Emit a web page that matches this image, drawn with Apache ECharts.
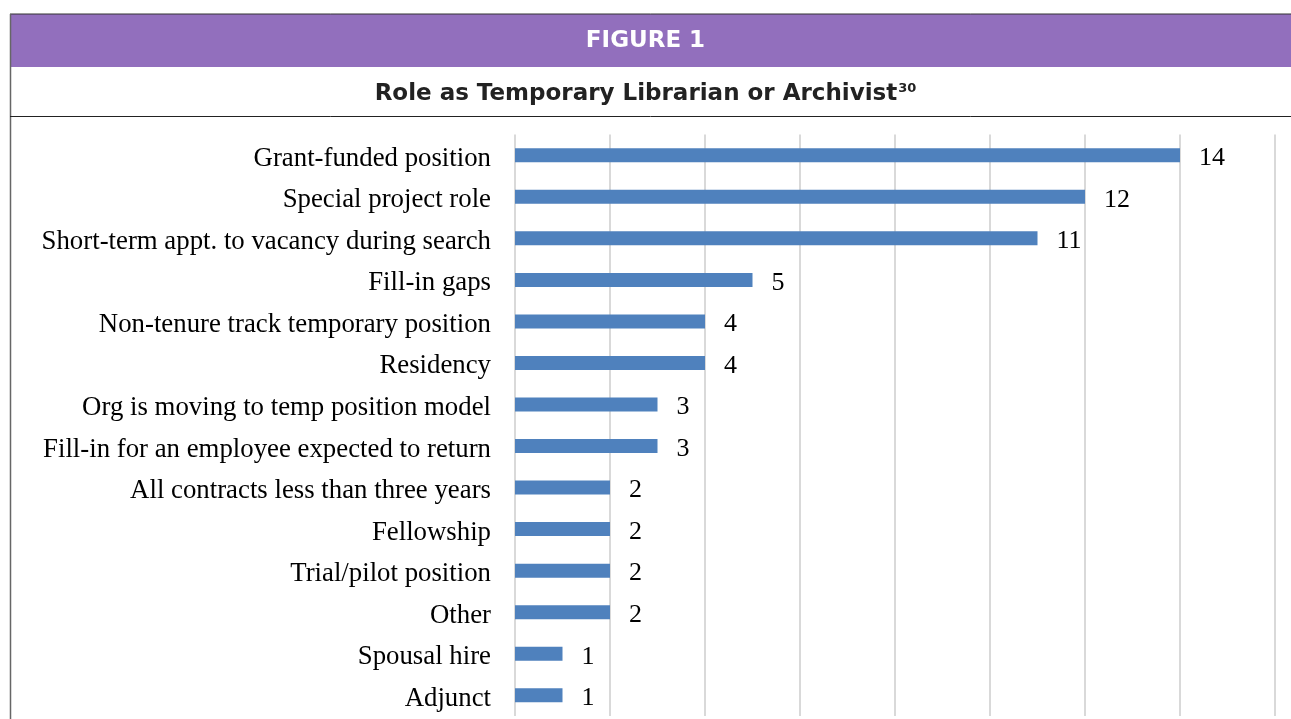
<!DOCTYPE html>
<html>
<head>
<meta charset="utf-8">
<script src="https://cdn.jsdelivr.net/npm/echarts@6/dist/echarts.min.js"></script>
<style>
  html, body { margin: 0; padding: 0; background: #fff; }
  #chart { width: 1291px; height: 719px; }
</style>
</head>
<body>
<div id="chart"></div>
<script>
// data
var roles = [
  "Grant-funded position",
  "Special project role",
  "Short-term appt. to vacancy during search",
  "Fill-in gaps",
  "Non-tenure track temporary position",
  "Residency",
  "Org is moving to temp position model",
  "Fill-in for an employee expected to return",
  "All contracts less than three years",
  "Fellowship",
  "Trial/pilot position",
  "Other",
  "Spousal hire",
  "Adjunct"
];
var counts = [14, 12, 11, 5, 4, 4, 3, 3, 2, 2, 2, 2, 1, 1];

var figureLabel = "FIGURE 1";
var figureTitle = "Role as Temporary Librarian or Archivist";
var footnote = "30";

var serif = '"Liberation Serif", "Times New Roman", serif';
var sans = '"DejaVu Sans", Inter, sans-serif';
var chart = echarts.init(document.getElementById('chart'));

var option = {
  backgroundColor: '#ffffff',
  animation: false,
  graphic: [
    // purple header band
    { type: 'rect', left: 10, top: 14, shape: { width: 1281, height: 53 },
      style: { fill: '#926fbd' }, z: 1 },
    // box outline
    { type: 'line', shape: { x1: 10, y1: 14, x2: 1291, y2: 14 },
      style: { stroke: '#333', lineWidth: 1 }, z: 2 },
    { type: 'line', shape: { x1: 10.5, y1: 14, x2: 10.5, y2: 719 },
      style: { stroke: '#666', lineWidth: 1.5 }, z: 2 },
    { type: 'line', shape: { x1: 10, y1: 116.5, x2: 1291, y2: 116.5 },
      style: { stroke: '#222', lineWidth: 1 }, z: 2 },
    { type: 'text', left: 'center', top: 30, z: 3,
      style: { text: figureLabel, fill: '#ffffff',
        font: 'bold 23px ' + sans } },
    { type: 'text', left: 'center', top: 82, z: 3,
      style: {
        text: '{t|' + figureTitle + '}{s|' + footnote + '}',
        rich: {
          t: { fontFamily: sans, fontWeight: 'bold', fontSize: 23, fill: '#222', color: '#222' },
          s: { fontFamily: sans, fontWeight: 'bold', fontSize: 13, fill: '#222', color: '#222', verticalAlign: 'top', padding: [0, 0, 12, 1] }
        }
      } }
  ],
  grid: { left: 515, right: 16, top: 134.5, bottom: 3, containLabel: false },
  xAxis: {
    type: 'value', min: 0, max: 16, interval: 2,
    axisLabel: { show: false },
    axisLine: { show: false },
    axisTick: { show: false },
    splitLine: { show: true, lineStyle: { color: '#d9d9d9', width: 2 } }
  },
  yAxis: {
    type: 'category', data: roles, inverse: true,
    axisLine: { show: false },
    axisTick: { show: false },
    axisLabel: {
      margin: 24,
      formatter: function (v) { return '{a|' + v + '}'; },
      rich: {
        a: { color: '#000', fontFamily: serif, fontSize: 26.8,
             lineHeight: 34, verticalAlign: 'bottom' }
      }
    }
  },
  series: [{
    type: 'bar', data: counts, barWidth: 14,
    itemStyle: { color: '#4f81bd' },
    label: {
      show: true, position: 'right', distance: 19, color: '#000',
      offset: [0, 3],
      fontFamily: serif, fontSize: 26
    }
  }]
};

chart.setOption(option);
</script>
</body>
</html>
